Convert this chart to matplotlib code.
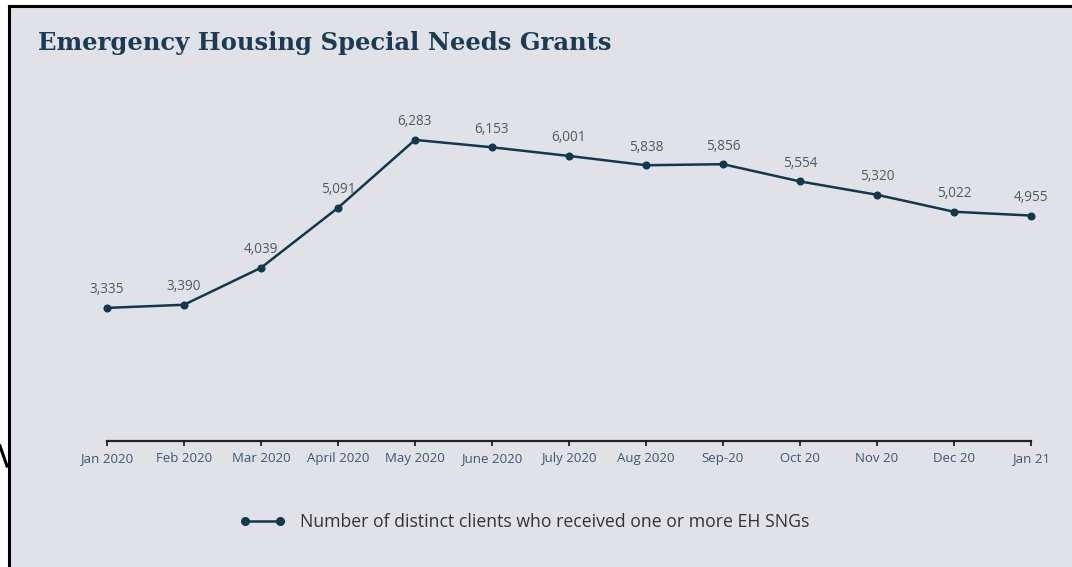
import matplotlib
matplotlib.use("Agg")
import matplotlib.pyplot as plt
from matplotlib.lines import Line2D

# monthly counts of distinct clients receiving EH SNGs
months = ["Jan 2020", "Feb 2020", "Mar 2020", "April 2020", "May 2020",
          "June 2020", "July 2020", "Aug 2020", "Sep-20", "Oct 20",
          "Nov 20", "Dec 20", "Jan 21"]
clients = [3335, 3390, 4039, 5091, 6283, 6153, 6001, 5838, 5856,
           5554, 5320, 5022, 4955]

bg = "#e1e2e7"
line_color = "#10394c"
W, H = 1072, 567

fig = plt.figure(figsize=(W / 100, H / 100), dpi=100)
fig.patch.set_facecolor("white")

# grey panel with black border on the left and top
panel = plt.Rectangle((9 / W, 0), 1 - 9 / W, 1 - 6 / H, transform=fig.transFigure,
                      facecolor=bg, edgecolor="none", zorder=0)
fig.add_artist(panel)
fig.add_artist(Line2D([9 / W, 9 / W], [0, 1 - 6 / H], transform=fig.transFigure,
                      color="black", lw=2.2))
fig.add_artist(Line2D([9 / W, 1], [1 - 6 / H, 1 - 6 / H], transform=fig.transFigure,
                      color="black", lw=2.2))
# small arrow piece poking in from the left edge
fig.add_artist(Line2D([0, 7 / W], [1 - 446 / H, 1 - 466 / H], transform=fig.transFigure,
                      color="black", lw=2.2))

fig.text(38 / W, 1 - 43 / H, "Emergency Housing Special Needs Grants",
         fontsize=17.5, fontweight="bold", family="DejaVu Serif",
         color="#1a3b54", va="center", ha="left")

ax = fig.add_axes([107 / W, 126 / H, (1031 - 107) / W, (441 - 99) / H])
ax.set_facecolor("none")
x = list(range(len(months)))
ax.plot(x, clients, color=line_color, lw=1.8, marker="o", markersize=4.8,
        clip_on=False, zorder=3)
ax.set_xlim(0, len(months) - 1)
ax.set_ylim(1000, 7000)

for i, v in enumerate(clients):
    ax.annotate(f"{v:,}", (i, v), xytext=(0, 13), textcoords="offset points",
                ha="center", va="center", fontsize=9.8, family="Open Sans",
                color="#4b5a6a")

for s in ["top", "right", "left"]:
    ax.spines[s].set_visible(False)
ax.spines["bottom"].set_color("#222222")
ax.spines["bottom"].set_linewidth(1.6)
ax.set_yticks([])
ax.set_xticks(x)
ax.set_xticklabels(months, family="Open Sans", fontsize=9.5, color="#3c5577")
ax.tick_params(axis="x", length=3.5, width=1.3, color="#222222", pad=4.5)

handle = Line2D([], [], color=line_color, lw=1.8, marker="o", markersize=5.5)
fig.legend([handle], ["Number of distinct clients who received one or more EH SNGs"],
           loc="center left", bbox_to_anchor=(224 / W, 1 - 522 / H), frameon=False,
           numpoints=2, handlelength=2.6, handletextpad=0.8,
           prop={"family": "Open Sans", "size": 12.7}, labelcolor="#333333")

fig.savefig("out.png", dpi=100, facecolor=fig.get_facecolor())
